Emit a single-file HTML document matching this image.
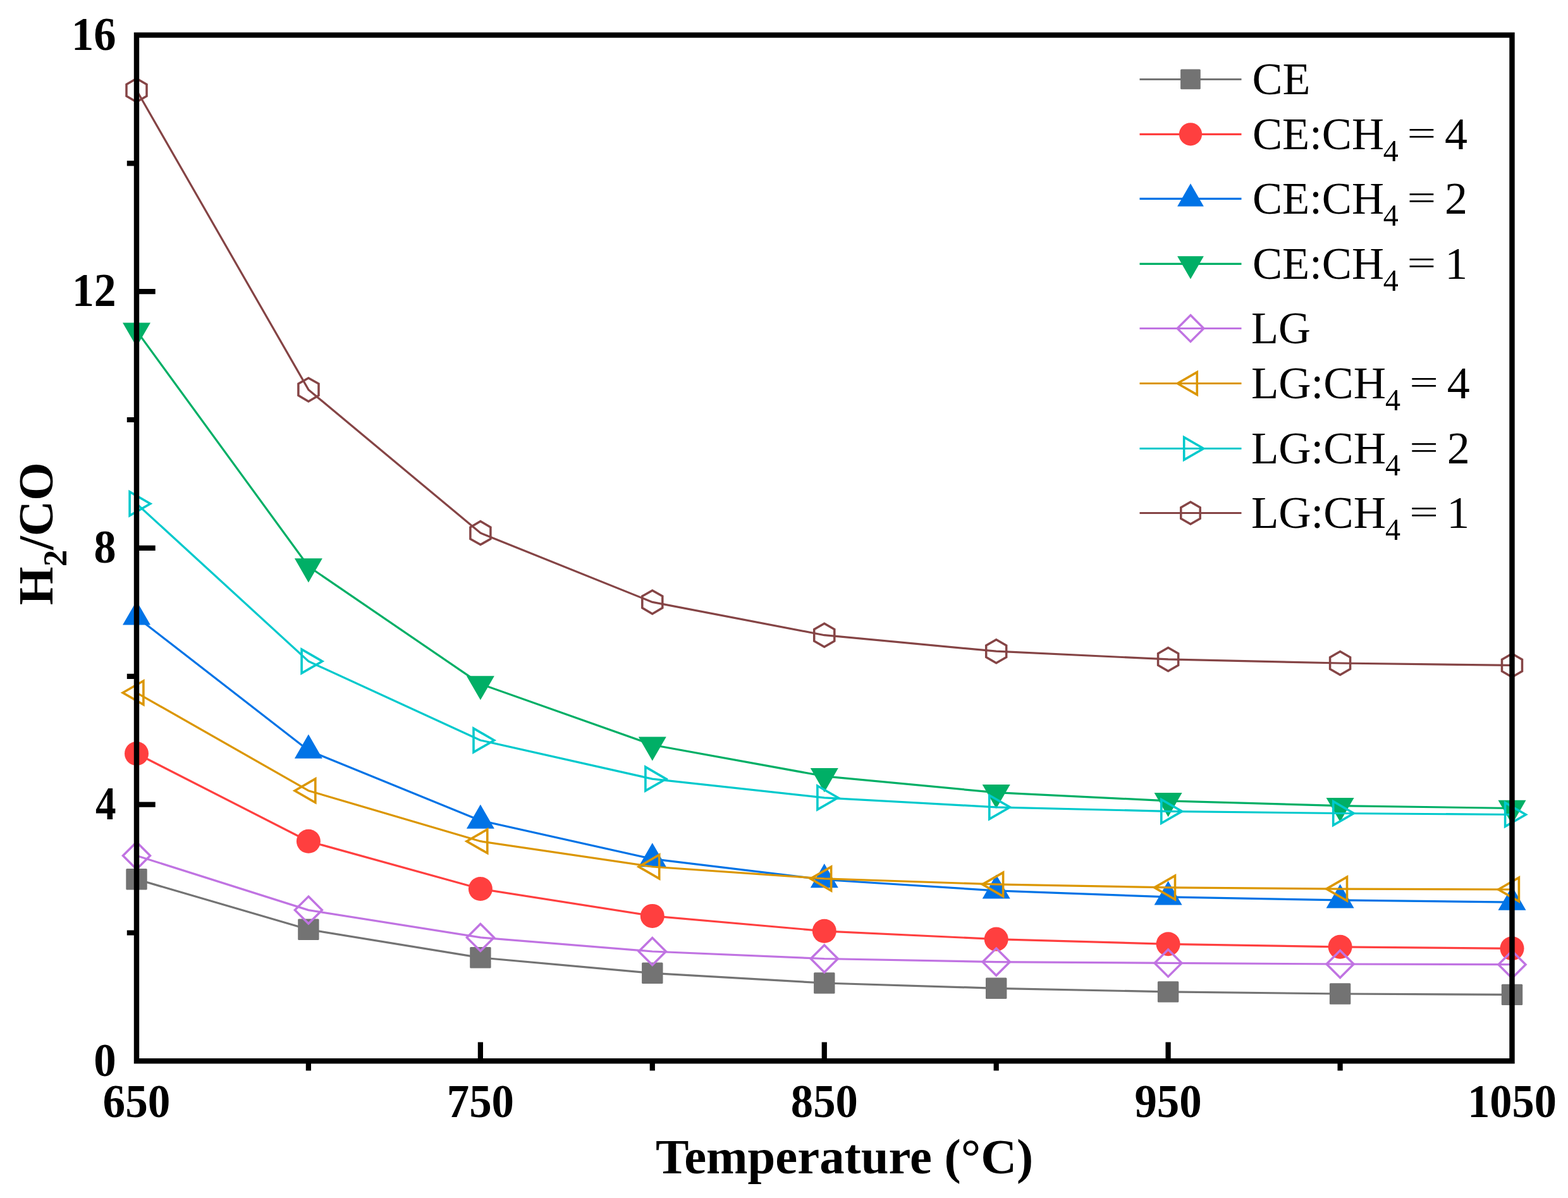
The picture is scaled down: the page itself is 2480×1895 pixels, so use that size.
<!DOCTYPE html>
<html><head><meta charset="utf-8"><title>H2/CO vs Temperature</title>
<style>html,body{margin:0;padding:0;background:#fff;overflow:hidden;}svg{display:block;}</style></head>
<body>
<svg width="2480" height="1895" viewBox="0 0 2480 1895">
<rect width="2480" height="1895" fill="#fff"/>
<g><polyline points="216,1390.8 487.9,1470.3 759.9,1514.8 1031.8,1539.3 1303.8,1555 1575.7,1563.3 1847.6,1568.9 2119.6,1572 2391.5,1573.4" fill="none" stroke="#737373" stroke-width="3.2" stroke-linejoin="round"/>
<rect x="199.3" y="1374.1" width="33.4" height="33.4" rx="1.5" fill="#737373"/>
<rect x="471.2" y="1453.6" width="33.4" height="33.4" rx="1.5" fill="#737373"/>
<rect x="743.2" y="1498.1" width="33.4" height="33.4" rx="1.5" fill="#737373"/>
<rect x="1015.1" y="1522.6" width="33.4" height="33.4" rx="1.5" fill="#737373"/>
<rect x="1287.1" y="1538.3" width="33.4" height="33.4" rx="1.5" fill="#737373"/>
<rect x="1559" y="1546.6" width="33.4" height="33.4" rx="1.5" fill="#737373"/>
<rect x="1830.9" y="1552.2" width="33.4" height="33.4" rx="1.5" fill="#737373"/>
<rect x="2102.9" y="1555.3" width="33.4" height="33.4" rx="1.5" fill="#737373"/>
<rect x="2374.8" y="1556.7" width="33.4" height="33.4" rx="1.5" fill="#737373"/>
</g>
<g><polyline points="216,1192 487.9,1330.7 759.9,1406 1031.8,1448.9 1303.8,1472.8 1575.7,1485.6 1847.6,1493.3 2119.6,1497.8 2391.5,1500.3" fill="none" stroke="#FF3F3F" stroke-width="3.2" stroke-linejoin="round"/>
<circle cx="216" cy="1192" r="19" fill="#FF3F3F"/>
<circle cx="487.9" cy="1330.7" r="19" fill="#FF3F3F"/>
<circle cx="759.9" cy="1406" r="19" fill="#FF3F3F"/>
<circle cx="1031.8" cy="1448.9" r="19" fill="#FF3F3F"/>
<circle cx="1303.8" cy="1472.8" r="19" fill="#FF3F3F"/>
<circle cx="1575.7" cy="1485.6" r="19" fill="#FF3F3F"/>
<circle cx="1847.6" cy="1493.3" r="19" fill="#FF3F3F"/>
<circle cx="2119.6" cy="1497.8" r="19" fill="#FF3F3F"/>
<circle cx="2391.5" cy="1500.3" r="19" fill="#FF3F3F"/>
</g>
<g><polyline points="216,975.9 487.9,1187 759.9,1298 1031.8,1358.6 1303.8,1391.5 1575.7,1408.9 1847.6,1418.9 2119.6,1423.9 2391.5,1427.1" fill="none" stroke="#0073E6" stroke-width="3.2" stroke-linejoin="round"/>
<path d="M216 950.5L238 988.6L194 988.6Z" fill="#0073E6"/>
<path d="M487.9 1161.6L509.9 1199.7L465.9 1199.7Z" fill="#0073E6"/>
<path d="M759.9 1272.6L781.9 1310.7L737.9 1310.7Z" fill="#0073E6"/>
<path d="M1031.8 1333.2L1053.8 1371.3L1009.8 1371.3Z" fill="#0073E6"/>
<path d="M1303.8 1366.1L1325.8 1404.2L1281.8 1404.2Z" fill="#0073E6"/>
<path d="M1575.7 1383.5L1597.7 1421.6L1553.7 1421.6Z" fill="#0073E6"/>
<path d="M1847.6 1393.5L1869.6 1431.6L1825.6 1431.6Z" fill="#0073E6"/>
<path d="M2119.6 1398.5L2141.6 1436.6L2097.6 1436.6Z" fill="#0073E6"/>
<path d="M2391.5 1401.7L2413.5 1439.8L2369.5 1439.8Z" fill="#0073E6"/>
</g>
<g><polyline points="216,523.1 487.9,896 759.9,1081.9 1031.8,1178.2 1303.8,1227.8 1575.7,1253.7 1847.6,1266.8 2119.6,1274.6 2391.5,1278.5" fill="none" stroke="#00AF66" stroke-width="3.2" stroke-linejoin="round"/>
<path d="M216 548.5L238 510.4L194 510.4Z" fill="#00AF66"/>
<path d="M487.9 921.4L509.9 883.3L465.9 883.3Z" fill="#00AF66"/>
<path d="M759.9 1107.3L781.9 1069.2L737.9 1069.2Z" fill="#00AF66"/>
<path d="M1031.8 1203.6L1053.8 1165.5L1009.8 1165.5Z" fill="#00AF66"/>
<path d="M1303.8 1253.2L1325.8 1215.1L1281.8 1215.1Z" fill="#00AF66"/>
<path d="M1575.7 1279.1L1597.7 1241L1553.7 1241Z" fill="#00AF66"/>
<path d="M1847.6 1292.2L1869.6 1254.1L1825.6 1254.1Z" fill="#00AF66"/>
<path d="M2119.6 1300L2141.6 1261.9L2097.6 1261.9Z" fill="#00AF66"/>
<path d="M2391.5 1303.9L2413.5 1265.8L2369.5 1265.8Z" fill="#00AF66"/>
</g>
<g><polyline points="216,1353.5 487.9,1439.6 759.9,1482.9 1031.8,1505 1303.8,1516.5 1575.7,1521.6 1847.6,1523.4 2119.6,1525 2391.5,1525.7" fill="none" stroke="#C073E2" stroke-width="3.2" stroke-linejoin="round"/>
<path d="M216 1332L237.5 1353.5L216 1375L194.5 1353.5Z" fill="none" stroke="#C073E2" stroke-width="3.5"/>
<path d="M487.9 1418.1L509.4 1439.6L487.9 1461.1L466.4 1439.6Z" fill="none" stroke="#C073E2" stroke-width="3.5"/>
<path d="M759.9 1461.4L781.4 1482.9L759.9 1504.4L738.4 1482.9Z" fill="none" stroke="#C073E2" stroke-width="3.5"/>
<path d="M1031.8 1483.5L1053.3 1505L1031.8 1526.5L1010.3 1505Z" fill="none" stroke="#C073E2" stroke-width="3.5"/>
<path d="M1303.8 1495L1325.3 1516.5L1303.8 1538L1282.3 1516.5Z" fill="none" stroke="#C073E2" stroke-width="3.5"/>
<path d="M1575.7 1500.1L1597.2 1521.6L1575.7 1543.1L1554.2 1521.6Z" fill="none" stroke="#C073E2" stroke-width="3.5"/>
<path d="M1847.6 1501.9L1869.1 1523.4L1847.6 1544.9L1826.1 1523.4Z" fill="none" stroke="#C073E2" stroke-width="3.5"/>
<path d="M2119.6 1503.5L2141.1 1525L2119.6 1546.5L2098.1 1525Z" fill="none" stroke="#C073E2" stroke-width="3.5"/>
<path d="M2391.5 1504.2L2413 1525.7L2391.5 1547.2L2370 1525.7Z" fill="none" stroke="#C073E2" stroke-width="3.5"/>
</g>
<g><polyline points="216,1095.8 487.9,1250.7 759.9,1330.7 1031.8,1371 1303.8,1389.9 1575.7,1398.9 1847.6,1403.9 2119.6,1406.1 2391.5,1407" fill="none" stroke="#DB9600" stroke-width="3.2" stroke-linejoin="round"/>
<path d="M194.2 1095.8L226.9 1077L226.9 1114.6Z" fill="none" stroke="#DB9600" stroke-width="3.6"/>
<path d="M466.2 1250.7L498.8 1231.9L498.8 1269.5Z" fill="none" stroke="#DB9600" stroke-width="3.6"/>
<path d="M738.1 1330.7L770.8 1311.9L770.8 1349.5Z" fill="none" stroke="#DB9600" stroke-width="3.6"/>
<path d="M1010.1 1371L1042.7 1352.2L1042.7 1389.8Z" fill="none" stroke="#DB9600" stroke-width="3.6"/>
<path d="M1282 1389.9L1314.6 1371.1L1314.6 1408.8Z" fill="none" stroke="#DB9600" stroke-width="3.6"/>
<path d="M1553.9 1398.9L1586.6 1380.1L1586.6 1417.8Z" fill="none" stroke="#DB9600" stroke-width="3.6"/>
<path d="M1825.9 1403.9L1858.5 1385.1L1858.5 1422.8Z" fill="none" stroke="#DB9600" stroke-width="3.6"/>
<path d="M2097.8 1406.1L2130.5 1387.2L2130.5 1424.9Z" fill="none" stroke="#DB9600" stroke-width="3.6"/>
<path d="M2369.8 1407L2402.4 1388.2L2402.4 1425.8Z" fill="none" stroke="#DB9600" stroke-width="3.6"/>
</g>
<g><polyline points="216,796.7 487.9,1046 759.9,1171 1031.8,1232.1 1303.8,1261.8 1575.7,1276.8 1847.6,1283.4 2119.6,1286.5 2391.5,1288.5" fill="none" stroke="#00C9CC" stroke-width="3.2" stroke-linejoin="round"/>
<path d="M237.8 796.7L205.1 777.9L205.1 815.6Z" fill="none" stroke="#00C9CC" stroke-width="3.6"/>
<path d="M509.7 1046L477.1 1027.2L477.1 1064.8Z" fill="none" stroke="#00C9CC" stroke-width="3.6"/>
<path d="M781.6 1171L749 1152.2L749 1189.8Z" fill="none" stroke="#00C9CC" stroke-width="3.6"/>
<path d="M1053.6 1232.1L1020.9 1213.2L1020.9 1250.9Z" fill="none" stroke="#00C9CC" stroke-width="3.6"/>
<path d="M1325.5 1261.8L1292.9 1243L1292.9 1280.6Z" fill="none" stroke="#00C9CC" stroke-width="3.6"/>
<path d="M1597.5 1276.8L1564.8 1258L1564.8 1295.6Z" fill="none" stroke="#00C9CC" stroke-width="3.6"/>
<path d="M1869.4 1283.4L1836.8 1264.6L1836.8 1302.2Z" fill="none" stroke="#00C9CC" stroke-width="3.6"/>
<path d="M2141.3 1286.5L2108.7 1267.7L2108.7 1305.3Z" fill="none" stroke="#00C9CC" stroke-width="3.6"/>
<path d="M2413.3 1288.5L2380.6 1269.7L2380.6 1307.3Z" fill="none" stroke="#00C9CC" stroke-width="3.6"/>
</g>
<g><polyline points="216,142.8 487.9,616.4 759.9,843.1 1031.8,952.4 1303.8,1004.7 1575.7,1030.2 1847.6,1042.9 2119.6,1049 2391.5,1052.4" fill="none" stroke="#854445" stroke-width="3.2" stroke-linejoin="round"/>
<path d="M216 124.3L232 133.6L232 152.1L216 161.3L200 152.1L200 133.6Z" fill="none" stroke="#854445" stroke-width="3.5"/>
<path d="M487.9 597.9L504 607.1L504 625.6L487.9 634.9L471.9 625.6L471.9 607.1Z" fill="none" stroke="#854445" stroke-width="3.5"/>
<path d="M759.9 824.6L775.9 833.9L775.9 852.4L759.9 861.6L743.9 852.4L743.9 833.9Z" fill="none" stroke="#854445" stroke-width="3.5"/>
<path d="M1031.8 933.9L1047.8 943.1L1047.8 961.6L1031.8 970.9L1015.8 961.6L1015.8 943.1Z" fill="none" stroke="#854445" stroke-width="3.5"/>
<path d="M1303.8 986.2L1319.8 995.5L1319.8 1014L1303.8 1023.2L1287.7 1014L1287.7 995.5Z" fill="none" stroke="#854445" stroke-width="3.5"/>
<path d="M1575.7 1011.7L1591.7 1021L1591.7 1039.5L1575.7 1048.7L1559.7 1039.5L1559.7 1021Z" fill="none" stroke="#854445" stroke-width="3.5"/>
<path d="M1847.6 1024.4L1863.7 1033.7L1863.7 1052.2L1847.6 1061.4L1831.6 1052.2L1831.6 1033.7Z" fill="none" stroke="#854445" stroke-width="3.5"/>
<path d="M2119.6 1030.5L2135.6 1039.8L2135.6 1058.2L2119.6 1067.5L2103.6 1058.2L2103.6 1039.8Z" fill="none" stroke="#854445" stroke-width="3.5"/>
<path d="M2391.5 1033.9L2407.5 1043.2L2407.5 1061.7L2391.5 1070.9L2375.5 1061.7L2375.5 1043.2Z" fill="none" stroke="#854445" stroke-width="3.5"/>
</g>
<path d="M216 1272.6H245.7 M216 866.9H245.7 M216 461.2H245.7 M216 1475.5H200.8 M216 1069.8H200.8 M216 664H200.8 M216 258.3H200.8 M759.9 1678.3V1648.6 M1303.8 1678.3V1648.6 M1847.6 1678.3V1648.6 M487.9 1678.3V1693.5 M1031.8 1678.3V1693.5 M1575.7 1678.3V1693.5 M2119.6 1678.3V1693.5" stroke="#000" stroke-width="8.2" fill="none"/>
<rect x="216" y="55.5" width="2175.5" height="1622.8" fill="none" stroke="#000" stroke-width="8.4"/>
<text x="183.6" y="1701.5" font-family="Liberation Serif, serif" font-weight="bold" font-size="73" text-anchor="end" textLength="35.44" lengthAdjust="spacingAndGlyphs">0</text>
<text x="183.6" y="1295.8" font-family="Liberation Serif, serif" font-weight="bold" font-size="73" text-anchor="end" textLength="32.58" lengthAdjust="spacingAndGlyphs">4</text>
<text x="183.6" y="890.1" font-family="Liberation Serif, serif" font-weight="bold" font-size="73" text-anchor="end" textLength="35.07" lengthAdjust="spacingAndGlyphs">8</text>
<text x="183.6" y="484.4" font-family="Liberation Serif, serif" font-weight="bold" font-size="73" text-anchor="end" textLength="69.69" lengthAdjust="spacingAndGlyphs">12</text>
<text x="183.6" y="78.7" font-family="Liberation Serif, serif" font-weight="bold" font-size="73" text-anchor="end" textLength="70.53" lengthAdjust="spacingAndGlyphs">16</text>
<text x="216" y="1767" font-family="Liberation Serif, serif" font-weight="bold" font-size="73" text-anchor="middle" textLength="106.87" lengthAdjust="spacingAndGlyphs">650</text>
<text x="759.9" y="1767" font-family="Liberation Serif, serif" font-weight="bold" font-size="73" text-anchor="middle" textLength="106.31" lengthAdjust="spacingAndGlyphs">750</text>
<text x="1303.8" y="1767" font-family="Liberation Serif, serif" font-weight="bold" font-size="73" text-anchor="middle" textLength="105.95" lengthAdjust="spacingAndGlyphs">850</text>
<text x="1847.6" y="1767" font-family="Liberation Serif, serif" font-weight="bold" font-size="73" text-anchor="middle" textLength="106.45" lengthAdjust="spacingAndGlyphs">950</text>
<text x="2391.5" y="1767" font-family="Liberation Serif, serif" font-weight="bold" font-size="73" text-anchor="middle" textLength="140.71" lengthAdjust="spacingAndGlyphs">1050</text>
<text x="1036.9" y="1856" font-family="Liberation Serif, serif" font-weight="bold" font-size="78" textLength="597.4" lengthAdjust="spacingAndGlyphs">Temperature (°C)</text>
<text transform="translate(83 957) rotate(-90)" font-family="Liberation Serif, serif" font-weight="bold" font-size="78">H<tspan font-size="53" dy="21.5">2</tspan><tspan dy="-21.5">/CO</tspan></text>
<path d="M1802.5 125.5H1963.5" stroke="#737373" stroke-width="3.2"/>
<rect x="1867.1" y="109.6" width="31.7" height="31.7" rx="1.5" fill="#737373"/>
<text x="1980.5" y="149.4" font-family="Liberation Serif, serif" font-size="72">CE</text>
<path d="M1802.5 212.3H1963.5" stroke="#FF3F3F" stroke-width="3.2"/>
<circle cx="1883" cy="212.3" r="18.1" fill="#FF3F3F"/>
<text y="236.2" font-family="Liberation Serif, serif" font-size="72"><tspan x="1980.9" textLength="208.2" lengthAdjust="spacingAndGlyphs">CE:CH</tspan><tspan x="2187.7" dy="18.5" font-size="48">4</tspan><tspan x="2285" dy="-18.5">4</tspan></text>
<text transform="translate(2225.5 229) scale(1.127 0.772)" font-family="Liberation Serif, serif" font-size="72">=</text>
<path d="M1802.5 314.3H1963.5" stroke="#0073E6" stroke-width="3.2"/>
<path d="M1883 290.2L1903.9 326.4L1862.1 326.4Z" fill="#0073E6"/>
<text y="338.2" font-family="Liberation Serif, serif" font-size="72"><tspan x="1980.9" textLength="208.2" lengthAdjust="spacingAndGlyphs">CE:CH</tspan><tspan x="2187.7" dy="18.5" font-size="48">4</tspan><tspan x="2285" dy="-18.5">2</tspan></text>
<text transform="translate(2225.5 331) scale(1.127 0.772)" font-family="Liberation Serif, serif" font-size="72">=</text>
<path d="M1802.5 417.4H1963.5" stroke="#00AF66" stroke-width="3.2"/>
<path d="M1883 441.5L1903.9 405.3L1862.1 405.3Z" fill="#00AF66"/>
<text y="441.3" font-family="Liberation Serif, serif" font-size="72"><tspan x="1980.9" textLength="208.2" lengthAdjust="spacingAndGlyphs">CE:CH</tspan><tspan x="2187.7" dy="18.5" font-size="48">4</tspan><tspan x="2285.3" dy="-18.5">1</tspan></text>
<text transform="translate(2225.5 434.1) scale(1.127 0.772)" font-family="Liberation Serif, serif" font-size="72">=</text>
<path d="M1802.5 519.5H1963.5" stroke="#C073E2" stroke-width="3.2"/>
<path d="M1883 498.6L1903.9 519.5L1883 540.4L1862.1 519.5Z" fill="none" stroke="#C073E2" stroke-width="3.5"/>
<text x="1979" y="543.4" font-family="Liberation Serif, serif" font-size="72" textLength="93.9" lengthAdjust="spacingAndGlyphs">LG</text>
<path d="M1802.5 606.5H1963.5" stroke="#DB9600" stroke-width="3.2"/>
<path d="M1862.3 606.5L1893.3 588.6L1893.3 624.4Z" fill="none" stroke="#DB9600" stroke-width="3.6"/>
<text y="630.4" font-family="Liberation Serif, serif" font-size="72"><tspan x="1978.9" textLength="213.1" lengthAdjust="spacingAndGlyphs">LG:CH</tspan><tspan x="2191.1" dy="18.5" font-size="48">4</tspan><tspan x="2288.85" dy="-18.5">4</tspan></text>
<text transform="translate(2229.3 623.2) scale(1.127 0.772)" font-family="Liberation Serif, serif" font-size="72">=</text>
<path d="M1802.5 709.5H1963.5" stroke="#00C9CC" stroke-width="3.2"/>
<path d="M1903.7 709.5L1872.7 691.6L1872.7 727.4Z" fill="none" stroke="#00C9CC" stroke-width="3.6"/>
<text y="733.4" font-family="Liberation Serif, serif" font-size="72"><tspan x="1978.9" textLength="213.1" lengthAdjust="spacingAndGlyphs">LG:CH</tspan><tspan x="2191.1" dy="18.5" font-size="48">4</tspan><tspan x="2288.7" dy="-18.5">2</tspan></text>
<text transform="translate(2229.3 726.2) scale(1.127 0.772)" font-family="Liberation Serif, serif" font-size="72">=</text>
<path d="M1802.5 811.5H1963.5" stroke="#854445" stroke-width="3.2"/>
<path d="M1883 793.9L1898.2 802.7L1898.2 820.3L1883 829.1L1867.8 820.3L1867.8 802.7Z" fill="none" stroke="#854445" stroke-width="3.5"/>
<text y="835.4" font-family="Liberation Serif, serif" font-size="72"><tspan x="1978.9" textLength="213.1" lengthAdjust="spacingAndGlyphs">LG:CH</tspan><tspan x="2191.1" dy="18.5" font-size="48">4</tspan><tspan x="2288.15" dy="-18.5">1</tspan></text>
<text transform="translate(2229.3 828.2) scale(1.127 0.772)" font-family="Liberation Serif, serif" font-size="72">=</text>
</svg>
</body></html>
